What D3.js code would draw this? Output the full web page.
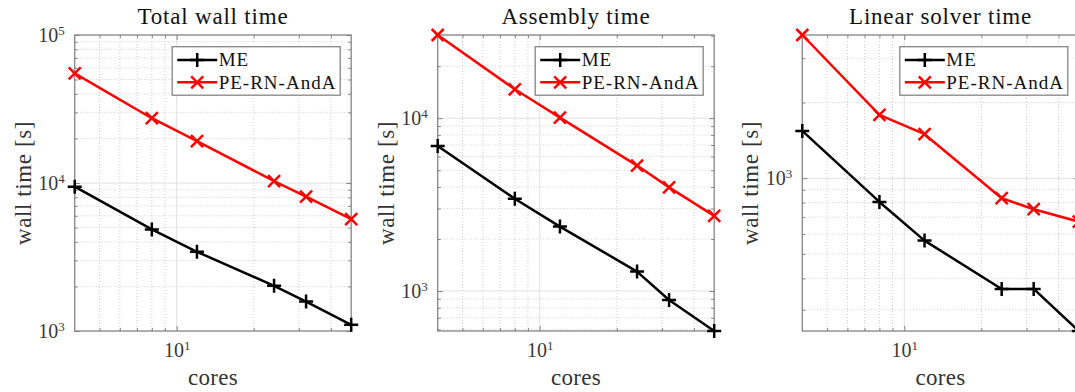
<!DOCTYPE html>
<html>
<head>
<meta charset="utf-8">
<script src="https://cdn.jsdelivr.net/npm/d3@7"></script>
<style>
  body { margin: 0; background: #fff; }
  svg { display: block; }
</style>
</head>
<body>
<svg id="chart" width="1075" height="392"></svg>
<script>
// Number of cores used in each run
const cores = [4, 8, 12, 24, 32, 48];

const panelTitles = ["Total wall time", "Assembly time", "Linear solver time"];
const seriesNames = ["ME", "PE-RN-AndA"];

// Timings in seconds, one array per series and panel
const totalME = [9440, 4860, 3430, 2020, 1580, 1100];
const totalPE = [55100, 27400, 19200, 10300, 8080, 5710];
const assemblyME = [6910, 3420, 2360, 1295, 887, 587];
const assemblyPE = [30300, 14700, 10070, 5320, 3980, 2720];
const solverME = [1542, 805, 565, 363, 363, 247];
const solverPE = [3710, 1787, 1496, 833, 753, 672];

// Axis limits (null = fit to the data) and labelled ticks
const yLimits = [[1e3, 1e5], null, null];
const xTickValues = [10];
const yTickValues = [[1e3, 1e4, 1e5], [1e3, 1e4], [1e3]];
const xLabel = "cores";
const yLabel = "wall time [s]";

const panelSeries = [
  [totalME, totalPE],
  [assemblyME, assemblyPE],
  [solverME, solverPE]
];

const colors = ["#000000", "#ff0000"];
const frameColor = "#858585";
const FONT = "'Liberation Serif', 'Times New Roman', Times, serif";
const LW = 2.5;

const panelLeft = [74.7, 437.7, 802.3];
const plotW = 276.5, plotTop = 35, plotBottom = 331;

const svg = d3.select("#chart");

const isPow10 = v => Math.abs(Math.log10(v) - Math.round(Math.log10(v))) < 1e-9;

function supLabels(sel) {
  sel.selectAll(".tick text").each(function (d) {
    const t = d3.select(this);
    t.text("10").style("font-family", FONT);
    t.append("tspan").attr("dy", -7).style("font-size", "13px").text(Math.round(Math.log10(d)));
  });
}

function marker(g, type, cx, cy, color) {
  if (type === 0) {
    const s = 7;
    g.append("path").attr("d", `M${cx - s},${cy}H${cx + s}M${cx},${cy - s}V${cy + s}`)
      .attr("stroke", color).attr("stroke-width", LW).attr("fill", "none");
  } else {
    const s = 6;
    g.append("path").attr("d", `M${cx - s},${cy - s}L${cx + s},${cy + s}M${cx - s},${cy + s}L${cx + s},${cy - s}`)
      .attr("stroke", color).attr("stroke-width", LW).attr("fill", "none");
  }
}

function label(g, txt, size, spacing, fill) {
  return g.append("text")
    .style("font-family", FONT).style("font-size", size + "px")
    .style("letter-spacing", spacing + "px").attr("fill", fill).text(txt);
}

panelSeries.forEach((series, p) => {
  const L = panelLeft[p];
  const x = d3.scaleLog().domain(d3.extent(cores)).range([L, L + plotW]);
  const allVals = series.flat();
  const y = d3.scaleLog().domain(yLimits[p] || d3.extent(allVals)).range([plotBottom, plotTop]);

  const g = svg.append("g");

  const xMinor = x.ticks().filter(v => !isPow10(v) && v > x.domain()[0] && v < x.domain()[1]);
  const yMinor = y.ticks().filter(v => !isPow10(v) && v > y.domain()[0] && v < y.domain()[1]);
  const yMajor = yTickValues[p];

  // minor grid (dotted)
  g.append("g").selectAll("line").data(xMinor).join("line")
    .attr("x1", d => x(d)).attr("x2", d => x(d)).attr("y1", plotTop).attr("y2", plotBottom)
    .attr("stroke", "#cccccc").attr("stroke-width", 1).attr("stroke-dasharray", "1,2");
  g.append("g").selectAll("line").data(yMinor).join("line")
    .attr("y1", d => y(d)).attr("y2", d => y(d)).attr("x1", L).attr("x2", L + plotW)
    .attr("stroke", "#cccccc").attr("stroke-width", 1).attr("stroke-dasharray", "1,2");
  // major grid
  g.append("g").selectAll("line").data(xTickValues).join("line")
    .attr("x1", d => x(d)).attr("x2", d => x(d)).attr("y1", plotTop).attr("y2", plotBottom)
    .attr("stroke", "#e0e0e0").attr("stroke-width", 1);
  g.append("g").selectAll("line").data(yMajor.filter(v => y(v) > plotTop + 1 && y(v) < plotBottom - 1)).join("line")
    .attr("y1", d => y(d)).attr("y2", d => y(d)).attr("x1", L).attr("x2", L + plotW)
    .attr("stroke", "#e0e0e0").attr("stroke-width", 1);

  // frame
  g.append("rect").attr("x", L).attr("y", plotTop).attr("width", plotW).attr("height", plotBottom - plotTop)
    .attr("fill", "none").attr("stroke", frameColor).attr("stroke-width", 1.3);

  const styleAxis = a => {
    a.select(".domain").remove();
    a.selectAll(".tick line").attr("stroke", frameColor);
    a.attr("font-family", null).attr("font-size", null);
    a.selectAll(".tick text").attr("fill", "#3a3a3a")
      .style("font-family", FONT).style("font-size", "20px");
  };

  // minor ticks on all four sides
  [[d3.axisBottom(x), `translate(0,${plotBottom})`, xMinor],
   [d3.axisTop(x), `translate(0,${plotTop})`, xMinor],
   [d3.axisLeft(y), `translate(${L},0)`, yMinor],
   [d3.axisRight(y), `translate(${L + plotW},0)`, yMinor]].forEach(([ax, tr, vals]) => {
    g.append("g").attr("transform", tr)
      .call(ax.tickValues(vals).tickSize(-3).tickFormat(""))
      .call(styleAxis);
  });
  // major ticks without labels on top / right
  g.append("g").attr("transform", `translate(0,${plotTop})`)
    .call(d3.axisTop(x).tickValues(xTickValues).tickSize(-5).tickFormat("")).call(styleAxis);
  g.append("g").attr("transform", `translate(${L + plotW},0)`)
    .call(d3.axisRight(y).tickValues(yMajor).tickSize(-5).tickFormat("")).call(styleAxis);
  // labelled major ticks
  g.append("g").attr("transform", `translate(0,${plotBottom})`)
    .call(d3.axisBottom(x).tickValues(xTickValues).tickSize(-5).tickPadding(12))
    .call(styleAxis).call(supLabels);
  g.append("g").attr("transform", `translate(${L},0)`)
    .call(d3.axisLeft(y).tickValues(yMajor).tickSize(-5).tickPadding(10))
    .call(styleAxis).call(supLabels);

  // series lines and markers
  const line = d3.line().x(d => x(d[0])).y(d => y(d[1]));
  series.forEach((vals, s) => {
    const pts = cores.map((c, i) => [c, vals[i]]);
    g.append("path").datum(pts).attr("d", line)
      .attr("fill", "none").attr("stroke", colors[s]).attr("stroke-width", LW)
      .attr("stroke-linejoin", "round");
    const mg = g.append("g");
    pts.forEach(pt => marker(mg, s, x(pt[0]), y(pt[1]), colors[s]));
  });

  // title and axis labels
  const cx = L + plotW / 2;
  label(g, panelTitles[p], 23, 0.8, "#111")
    .attr("x", cx).attr("y", 24).attr("text-anchor", "middle");
  label(g, xLabel, 23, 0.3, "#333")
    .attr("x", cx).attr("y", 385).attr("text-anchor", "middle");
  label(g, yLabel, 23, 0.6, "#333")
    .attr("transform", `translate(${L - 44},${(plotTop + plotBottom) / 2}) rotate(-90)`)
    .attr("text-anchor", "middle");

  // legend
  const lw = 168, lh = 48.5;
  const lx = L + plotW - 11 - lw, ly = plotTop + 11.7;
  const lg = g.append("g").attr("transform", `translate(${lx},${ly})`);
  lg.append("rect").attr("width", lw).attr("height", lh)
    .attr("fill", "#fff").attr("stroke", frameColor).attr("stroke-width", 1.3);
  seriesNames.forEach((name, s) => {
    const ry = 13.3 + s * 22.3;
    lg.append("line").attr("x1", 5).attr("x2", 45).attr("y1", ry).attr("y2", ry)
      .attr("stroke", colors[s]).attr("stroke-width", LW);
    marker(lg, s, 25, ry, colors[s]);
    label(lg, name, 19, 1, "#111").attr("x", 46.5).attr("y", ry).attr("dy", "0.33em");
  });
});
</script>
</body>
</html>
